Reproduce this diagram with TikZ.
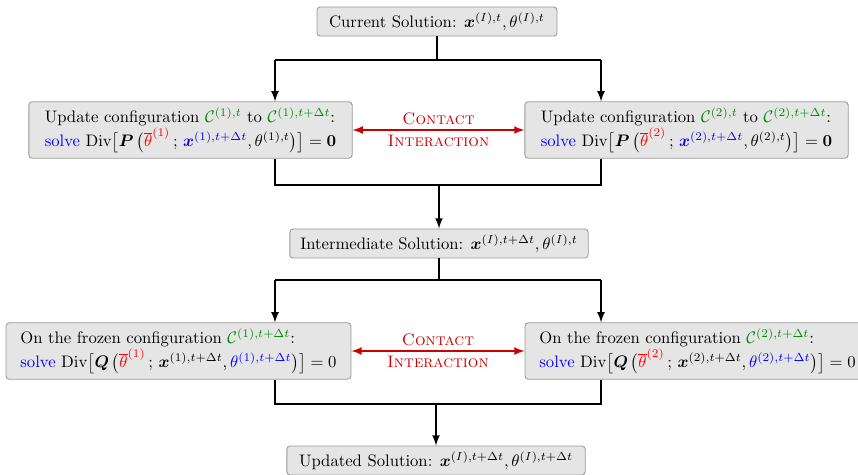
\documentclass[tikz,border=0pt]{standalone}
\usepackage{amsmath}
\usepackage{amssymb}
\usepackage{bm}
\usepackage{tikz}
\usetikzlibrary{positioning}

\definecolor{cfgreen}{rgb}{0.0,0.55,0.0}
\definecolor{contactred}{rgb}{0.8,0.0,0.0}

\tikzset{
  solbox/.style={draw=black!40, fill=black!10, rounded corners=2pt, line width=0.5pt,
                 inner xsep=6pt, minimum height=17.4pt},
  stagebox/.style={draw=black!40, fill=black!10, rounded corners=2pt, line width=0.5pt,
                   align=left, inner xsep=6pt, minimum height=32.4pt},
  flow/.style={line width=1.1pt, -latex},
  link/.style={line width=1.1pt},
  contact/.style={contactred, line width=1.1pt, latex-latex}
}

\begin{document}
\begin{tikzpicture}[x=0.6pt, y=-0.6pt]
  \useasboundingbox (0,0) rectangle (858,474);

  % solution states along the middle
  \node[solbox, minimum width=144pt] (cur) at (437,21.5)
    {Current Solution: $\bm{x}^{(I),t},\theta^{(I),t}$};
  \node[solbox, minimum width=179pt] (mid) at (439,243.5)
    {Intermediate Solution: $\bm{x}^{(I),t+\Delta t},\theta^{(I),t}$};
  \node[solbox, minimum width=179pt] (upd) at (436,460.5)
    {Updated Solution: $\bm{x}^{(I),t+\Delta t},\theta^{(I),t+\Delta t}$};

  % mechanical step
  \node[stagebox, minimum width=194pt] (up1) at (190.5,130)
    {Update configuration $\textcolor{cfgreen}{\mathcal{C}^{(1),t}}$ to $\textcolor{cfgreen}{\mathcal{C}^{(1),t+\Delta t}}$:\\
     \textcolor{blue}{solve} $\mathrm{Div}\big[\bm{P}\,\big(\textcolor{red}{\overline{\theta}^{(1)}}\,;\,\textcolor{blue}{\bm{x}^{(1),t+\Delta t}},\theta^{(1),t}\big)\big]=\bm{0}$};
  \node[stagebox, minimum width=194pt] (up2) at (686.5,130)
    {Update configuration $\textcolor{cfgreen}{\mathcal{C}^{(2),t}}$ to $\textcolor{cfgreen}{\mathcal{C}^{(2),t+\Delta t}}$:\\
     \textcolor{blue}{solve} $\mathrm{Div}\big[\bm{P}\,\big(\textcolor{red}{\overline{\theta}^{(2)}}\,;\,\textcolor{blue}{\bm{x}^{(2),t+\Delta t}},\theta^{(2),t}\big)\big]=\bm{0}$};

  % thermal step
  \node[stagebox, minimum width=207pt] (fr1) at (178.5,351)
    {On the frozen configuration $\textcolor{cfgreen}{\mathcal{C}^{(1),t+\Delta t}}$:\\
     \textcolor{blue}{solve} $\mathrm{Div}\big[\bm{Q}\,\big(\textcolor{red}{\overline{\theta}^{(1)}}\,;\,\bm{x}^{(1),t+\Delta t},\textcolor{blue}{\theta^{(1),t+\Delta t}}\big)\big]=0$};
  \node[stagebox, minimum width=207pt] (fr2) at (697.5,351)
    {On the frozen configuration $\textcolor{cfgreen}{\mathcal{C}^{(2),t+\Delta t}}$:\\
     \textcolor{blue}{solve} $\mathrm{Div}\big[\bm{Q}\,\big(\textcolor{red}{\overline{\theta}^{(2)}}\,;\,\bm{x}^{(2),t+\Delta t},\textcolor{blue}{\theta^{(2),t+\Delta t}}\big)\big]=0$};

  % split and join points
  \coordinate (s1l) at (275,60);  \coordinate (s1r) at (601,60);
  \coordinate (j1l) at (275,185); \coordinate (j1r) at (601,185);
  \coordinate (s2l) at (275,280); \coordinate (s2r) at (601,280);
  \coordinate (j2l) at (275,404); \coordinate (j2r) at (601,404);

  \draw [link] (cur.south) -- (cur.south |- s1l);
  \draw [link] (s1l) -- (s1r);
  \draw [flow] (s1l) -- (s1l |- up1.north);
  \draw [flow] (s1r) -- (s1r |- up2.north);
  \draw [link] (j1l |- up1.south) -- (j1l) -- (j1r) -- (j1r |- up2.south);
  \draw [flow] (mid.north |- j1l) -- (mid.north);

  \draw [link] (mid.south) -- (mid.south |- s2l);
  \draw [link] (s2l) -- (s2r);
  \draw [flow] (s2l) -- (s2l |- fr1.north);
  \draw [flow] (s2r) -- (s2r |- fr2.north);
  \draw [link] (j2l |- fr1.south) -- (j2l) -- (j2r) -- (j2r |- fr2.south);
  \draw [flow] (upd.north |- j2l) -- (upd.north);

  % contact between the two bodies
  \draw [contact] (up1.east) -- node[above=-1pt]{\textsc{Contact}} node[below=-1pt]{\textsc{Interaction}} (up2.west);
  \draw [contact] (fr1.east) -- node[above=-1pt]{\textsc{Contact}} node[below=-1pt]{\textsc{Interaction}} (fr2.west);
\end{tikzpicture}
\end{document}
